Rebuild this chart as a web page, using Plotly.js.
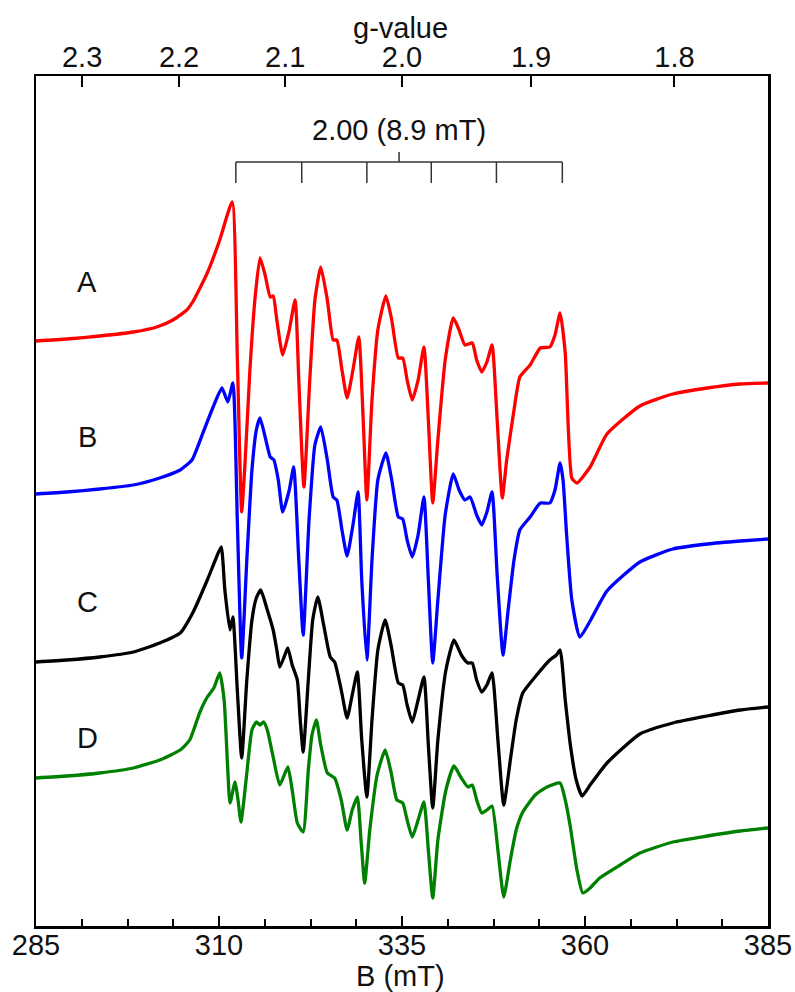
<!DOCTYPE html>
<html>
<head>
<meta charset="utf-8">
<script src="https://cdn.plot.ly/plotly-3.0.1.min.js"></script>
<style>
  html, body { margin: 0; padding: 0; background: #ffffff; }
  #chart { width: 795px; height: 992px; }
</style>
</head>
<body>
<div id="chart"></div>
<script>
// ---- Data (B in mT, intensity in arbitrary stacked units) ----
const fieldA = [285.0,289.2,293.7,298.3,301.5,303.7,305.6,306.4,308.4,310.1,311.8,312.5,313.1,313.6,314.2,314.9,315.6,316.3,317.0,317.4,317.9,318.7,319.6,320.4,320.9,321.6,322.4,323.1,323.9,324.8,325.6,326.1,326.8,327.5,328.3,329.1,329.7,330.2,330.9,331.7,332.8,333.6,334.5,335.1,335.7,336.4,337.2,338.0,338.6,339.2,339.9,340.9,342.0,342.8,343.6,344.6,345.2,345.9,346.6,347.3,348.0,348.7,349.3,350.3,351.1,352.5,353.9,355.2,355.9,356.6,357.3,358.2,358.9,360.7,363.0,367.5,372.0,376.7,381.2,385.0];
const intensityA = [585,587,590,594,599,606,616,624,653,686,724,569,414,469,553,626,668,651,629,630,606,571,596,626,546,439,546,626,659,626,586,586,556,528,556,589,506,426,526,596,630,606,568,568,546,526,546,579,506,423,486,566,608,596,581,583,566,554,564,581,506,428,466,516,549,561,578,579,591,613,573,448,443,459,492,520,532,538,542,543];

const fieldB = [285.0,289.2,293.7,298.3,301.9,304.7,306.3,307.8,309.2,310.4,311.2,311.9,312.5,313.1,313.8,314.5,315.1,315.6,316.4,317.0,317.5,318.1,318.7,319.6,320.2,320.9,321.5,322.3,323.1,323.9,324.8,325.6,326.1,326.8,327.5,328.3,329.0,329.5,330.2,330.9,331.7,332.8,333.6,334.5,335.1,335.7,336.4,337.2,338.0,338.6,339.2,339.9,340.9,342.0,342.8,343.6,344.3,345.2,345.9,346.6,347.3,348.0,348.8,349.5,350.3,351.1,352.5,353.9,355.2,355.9,356.6,357.0,357.5,358.2,359.3,360.7,363.0,367.5,372.0,376.7,381.2,385.0];
const intensityB = [432,434,437,441,448,456,466,493,519,538,524,543,406,268,366,456,496,508,486,469,466,446,414,436,459,366,291,406,481,499,466,429,426,396,370,401,434,346,266,366,446,473,446,409,407,386,369,391,429,346,263,326,411,452,436,426,429,411,401,414,434,351,271,316,366,396,409,423,423,436,463,446,390,326,289,305,335,364,377,382,385,387];

const fieldC = [285.0,289.2,293.7,298.3,301.9,304.7,306.4,308.4,309.5,310.3,310.8,311.5,311.9,312.5,313.1,313.8,314.5,315.1,315.7,316.6,317.4,317.9,318.3,319.0,319.4,320.0,320.7,321.1,321.5,322.2,322.8,323.5,324.3,325.2,325.8,326.7,327.5,328.2,328.9,329.5,330.2,330.9,331.7,332.7,333.5,334.5,335.1,335.7,336.4,337.2,338.0,338.6,339.2,339.9,341.0,342.1,343.1,344.0,344.6,345.2,345.9,346.6,347.3,348.1,348.9,349.8,350.6,351.5,353.4,355.2,356.1,356.6,357.3,358.0,358.8,359.6,360.7,363.0,367.5,372.0,376.7,381.2,385.0];
const intensityC = [264,266,269,274,283,293,313,346,366,379,336,296,309,236,168,246,306,328,336,316,296,276,259,271,278,261,246,206,174,246,306,329,301,269,264,236,208,231,254,186,129,206,276,306,281,243,241,221,204,226,249,181,118,186,256,286,271,263,263,246,234,241,253,186,121,166,206,233,251,266,271,276,226,181,146,130,141,163,192,203,210,216,219];

const fieldD = [285.0,289.2,293.7,298.3,301.9,304.7,306.0,307.4,308.4,309.3,310.1,310.7,311.2,311.5,312.2,312.6,313.0,313.7,314.5,315.1,315.6,316.1,316.6,317.4,318.3,319.4,320.0,320.7,321.5,322.2,322.7,323.3,323.9,324.8,325.8,326.7,327.5,328.2,328.9,329.4,329.9,330.6,331.6,332.7,333.5,334.3,335.1,335.7,336.4,337.2,338.0,338.6,339.2,339.9,341.0,342.1,343.1,344.0,344.6,345.2,345.9,346.6,347.3,348.1,348.9,349.8,350.6,351.5,353.2,354.8,356.6,357.3,358.0,358.9,359.7,360.7,362.0,364.8,367.5,372.0,376.7,381.2,385.0];
const intensityD = [148,150,153,158,166,176,186,214,229,238,253,226,156,123,144,126,104,146,196,204,201,204,196,169,141,159,136,103,94,156,191,206,181,153,148,126,96,116,129,86,43,96,151,176,154,126,123,106,89,106,124,76,28,86,136,160,148,139,141,126,113,116,120,76,29,66,96,114,131,139,143,126,99,56,33,38,48,61,73,84,90,95,98];

const traceNames = ['A', 'B', 'C', 'D'];
const traceColors = ['#ff0000', '#0000ff', '#000000', '#008000'];

// bottom axis ticks (mT)
const fieldTicks = [285, 310, 335, 360, 385];
// top axis g-value ticks
const gTicks = [2.3, 2.2, 2.1, 2.0, 1.9, 1.8];
const gTickLabels = ['2.3', '2.2', '2.1', '2.0', '1.9', '1.8'];
const gTimesB = 670; // g * B (mT) product for the spectrometer frequency

// hyperfine stick pattern
const bracketFields = [312.3, 321.3, 330.2, 339.0, 347.9, 356.9];
const bracketCentre = 334.6;
const bracketLabel = '2.00 (8.9 mT)';

// ---- Build figure ----
const FONT = 'Liberation Sans, Arial, Helvetica, sans-serif';
const TXT = '#111';
const fields = [fieldA, fieldB, fieldC, fieldD];
const intens = [intensityA, intensityB, intensityC, intensityD];

const traces = fields.map((f, i) => ({
  x: f, y: intens[i], type: 'scatter', mode: 'lines', name: traceNames[i],
  line: { color: traceColors[i], width: 3.3, shape: 'spline', smoothing: 0.5 }, hoverinfo: 'skip'
}));
// anchor trace for the top g-value axis
traces.push({ x: [285], y: [null], xaxis: 'x2', yaxis: 'y', mode: 'lines', showlegend: false, hoverinfo: 'skip' });

const labelY = [644, 489, 324, 188];
const annotations = traceNames.map((t, i) => ({
  x: 292.0, y: labelY[i], xref: 'x', yref: 'y', text: t, showarrow: false,
  font: { family: FONT, size: 29, color: TXT }
}));
annotations.push({
  x: bracketCentre, y: 796, xref: 'x', yref: 'y', text: bracketLabel, showarrow: false,
  font: { family: FONT, size: 29, color: TXT }
});
// axis titles
annotations.push({
  x: 0.4986, y: 1.0565, xref: 'paper', yref: 'paper', text: 'g-value', showarrow: false,
  xanchor: 'center', yanchor: 'middle', font: { family: FONT, size: 29, color: TXT }
});
annotations.push({
  x: 0.4986, y: -0.0588, xref: 'paper', yref: 'paper', text: 'B (mT)', showarrow: false,
  xanchor: 'center', yanchor: 'middle', font: { family: FONT, size: 29, color: TXT }
});

const barTop = 764, barBottom = 743, centreTop = 774;
const shapes = [{
  type: 'line', xref: 'x', yref: 'y', x0: bracketFields[0], x1: bracketFields[bracketFields.length - 1],
  y0: barTop, y1: barTop, line: { color: '#333', width: 1.5 }
}, {
  type: 'line', xref: 'x', yref: 'y', x0: bracketCentre, x1: bracketCentre,
  y0: barTop, y1: centreTop, line: { color: '#333', width: 1.5 }
}];
bracketFields.forEach(b => shapes.push({
  type: 'line', xref: 'x', yref: 'y', x0: b, x1: b, y0: barTop, y1: barBottom,
  line: { color: '#333', width: 1.5 }
}));

const layout = {
  width: 795, height: 992,
  margin: { l: 36, r: 27, t: 76, b: 66 },
  paper_bgcolor: '#ffffff', plot_bgcolor: '#ffffff',
  showlegend: false,
  font: { family: FONT, size: 29, color: TXT },
  xaxis: {
    range: [285, 385], tickvals: fieldTicks, ticktext: fieldTicks.map(String),
    ticks: 'inside', ticklen: 10, tickwidth: 2, tickcolor: '#000',
    minor: { dtick: 6.25, tick0: 285, ticks: 'inside', ticklen: 7, tickwidth: 2, tickcolor: '#000', showgrid: false },
    showline: true, linewidth: 2.5, linecolor: '#000', mirror: false,
    showgrid: false, zeroline: false, ticklabelstandoff: -8,
    tickfont: { family: FONT, size: 29, color: TXT }
  },
  xaxis2: {
    overlaying: 'x', side: 'top', anchor: 'y', range: [285, 385],
    tickvals: gTicks.map(g => gTimesB / g), ticktext: gTickLabels,
    ticks: 'inside', ticklen: 11, tickwidth: 2, tickcolor: '#000',
    showline: true, linewidth: 2.5, linecolor: '#000',
    showgrid: false, zeroline: false, ticklabelstandoff: -5,
    tickfont: { family: FONT, size: 29, color: TXT }
  },
  yaxis: {
    range: [0, 850], showline: true, mirror: true, linewidth: 2.5, linecolor: '#000',
    showticklabels: false, ticks: '', showgrid: false, zeroline: false
  },
  annotations: annotations,
  shapes: shapes
};

Plotly.newPlot('chart', traces, layout, { staticPlot: true, displayModeBar: false });
</script>
</body>
</html>
